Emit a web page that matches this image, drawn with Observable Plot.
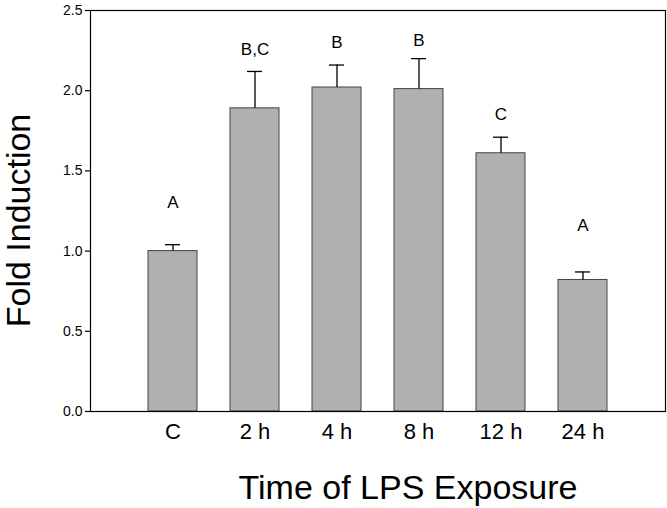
<!DOCTYPE html>
<html>
<head>
<meta charset="utf-8">
<script src="https://cdn.jsdelivr.net/npm/d3@7"></script>
<script src="https://cdn.jsdelivr.net/npm/@observablehq/plot@0.6"></script>
<style>
  html, body { margin: 0; padding: 0; background: #fff; }
</style>
</head>
<body>
<div id="chart"></div>
<script>
const categories = ["C", "2 h", "4 h", "8 h", "12 h", "24 h"];
const means = [1.00, 1.89, 2.02, 2.01, 1.61, 0.82];
const errTops = [1.04, 2.12, 2.16, 2.20, 1.71, 0.87];
const letters = ["A", "B,C", "B", "B", "C", "A"];
const letterY = [1.30, 2.255, 2.30, 2.31, 1.85, 1.16];
const yTicks = [0, 0.5, 1.0, 1.5, 2.0, 2.5];
const xTitle = "Time of LPS Exposure";
const yTitle = "Fold Induction";

const data = categories.map((c, i) => ({
  cat: c, mean: means[i], err: errTops[i], letter: letters[i], ly: letterY[i]
}));

const chart = Plot.plot({
  width: 667,
  height: 508,
  marginLeft: 90,
  marginRight: 2,
  marginTop: 10,
  marginBottom: 97,
  style: { fontFamily: "'Liberation Sans', Arial, sans-serif", background: "#fff", color: "#000" },
  x: { domain: categories, paddingInner: 0.4, paddingOuter: 0.7, axis: null },
  y: { domain: [0, 2.5], axis: null },
  marks: [
    Plot.barY(data, { x: "cat", y: "mean", fill: "#b0b0b0", stroke: "#444", strokeWidth: 1 }),
    Plot.ruleX(data, { x: "cat", y1: "mean", y2: "err", stroke: "#000", strokeWidth: 1.3 }),
    Plot.tickY(data, { x: "cat", y: "err", insetLeft: 17, insetRight: 17, stroke: "#000", strokeWidth: 1.3 }),
    Plot.text(data, { x: "cat", y: "ly", text: "letter", fontSize: 17, fill: "#000" }),
    Plot.frame({ stroke: "#000", strokeWidth: 1.2 }),
    Plot.axisY({ ticks: yTicks, tickFormat: d3.format(".1f"), tickSize: 5, tickPadding: 3, fontSize: 14, label: null, stroke: "#000", strokeWidth: 1.2 }),
    Plot.axisX({ tickSize: 0, tickPadding: 12, fontSize: 22, label: null }),
    Plot.text([xTitle], { frameAnchor: "bottom", textAnchor: "middle", lineAnchor: "middle", dy: 76.5, dx: 30, fontSize: 34, fill: "#000" }),
    Plot.text([yTitle], { frameAnchor: "left", textAnchor: "middle", lineAnchor: "middle", dx: -71, dy: 9.5, rotate: -90, fontSize: 34, fill: "#000" })
  ]
});
document.getElementById("chart").appendChild(chart);
</script>
</body>
</html>
